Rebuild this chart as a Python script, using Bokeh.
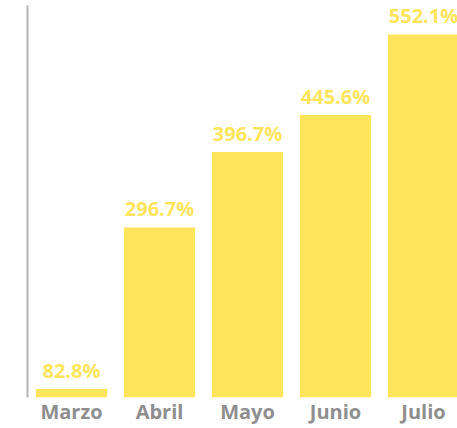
from bokeh.plotting import figure
from bokeh.models import Range1d, FixedTicker, ColumnDataSource
from bokeh.embed import file_html
from bokeh.resources import INLINE
from bokeh.core.properties import value
import numpy as np

meses = ["Marzo", "Abril", "Mayo", "Junio", "Julio"]
valores = [82.8, 296.7, 396.7, 445.6, 552.1]
etiquetas = ["82.8%", "296.7%", "396.7%", "445.6%", "552.1%"]

pos = (np.arange(len(meses)) + 0.5).tolist()
src = ColumnDataSource(dict(x=pos, top=valores, lab=etiquetas))

YELLOW = "#FFE55C"
GRAY = "#8E8E8E"

p = figure(width=457, height=428, output_backend="svg", toolbar_location=None,
           x_range=Range1d(0, 430 / 88), y_range=Range1d(71.7, 590.4),
           min_border_left=27, min_border_right=0, min_border_top=5, min_border_bottom=31)

p.vbar(x="x", top="top", bottom=0, width=0.81, source=src, color=YELLOW, line_color=None)
p.text(x="x", y="top", text="lab", source=src, text_align="center",
       text_baseline="bottom", y_offset=-5, text_color=YELLOW,
       text_font=value("Open Sans"), text_font_size="20px", text_font_style="bold")

p.xgrid.visible = False
p.ygrid.visible = False
p.outline_line_color = None
p.background_fill_color = "white"
p.border_fill_color = "white"

ax = p.xaxis[0]
ax.ticker = FixedTicker(ticks=pos)
ax.major_label_overrides = {x: m for x, m in zip(pos, meses)}
ax.axis_line_color = None
ax.major_tick_line_color = None
ax.minor_tick_line_color = None
ax.major_tick_out = 0
ax.major_tick_in = 0
ax.major_label_text_color = GRAY
ax.major_label_text_font = "Open Sans"
ax.major_label_text_font_size = "20px"
ax.major_label_text_font_style = "bold"
ax.major_label_standoff = 0

ay = p.yaxis[0]
ay.ticker = FixedTicker(ticks=[])
ay.axis_line_color = "#B5B5B5"
ay.axis_line_width = 2
ay.major_tick_line_color = None
ay.minor_tick_line_color = None
ay.major_tick_out = 0
ay.major_tick_in = 0
ay.major_label_standoff = 0

open("out.html", "w").write(file_html(p, INLINE))
